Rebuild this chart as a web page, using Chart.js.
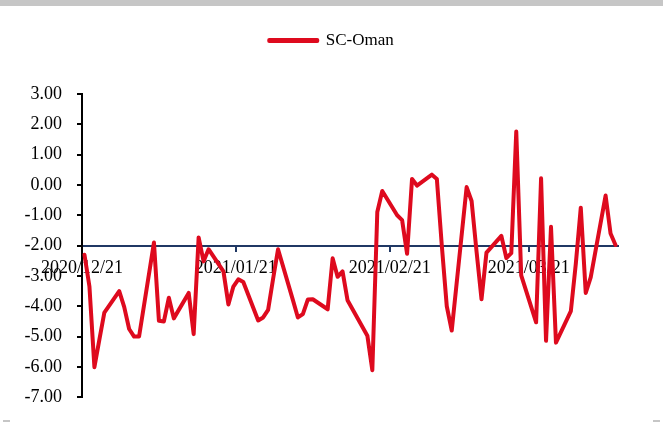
<!DOCTYPE html>
<html>
<head>
<meta charset="utf-8">
<script src="https://cdn.jsdelivr.net/npm/chart.js@4/dist/chart.umd.min.js"></script>
<style>
  html, body { margin: 0; padding: 0; background: #fff; }
  #wrap { position: relative; width: 663px; height: 423px; }
  #topbar { position: absolute; left: 0; top: 0; width: 663px; height: 6px; background: #c6c6c6; }
  .corner { position: absolute; width: 7px; height: 2px; background: #c6c6c6; top: 420px; }
</style>
</head>
<body>
<div id="wrap">
  <canvas id="chart-canvas" width="663" height="423"></canvas>
  <div id="topbar"></div>
  <div class="corner" style="left:3px"></div>
  <div class="corner" style="left:653px"></div>
</div>
<script>
const ctx = document.getElementById('chart-canvas');

// trading days
const dates = [
  '2020/12/21', '2020/12/22', '2020/12/23', '2020/12/24', '2020/12/25',
  '2020/12/28', '2020/12/29', '2020/12/30', '2020/12/31', '2021/01/01',
  '2021/01/04', '2021/01/05', '2021/01/06', '2021/01/07', '2021/01/08',
  '2021/01/11', '2021/01/12', '2021/01/13', '2021/01/14', '2021/01/15',
  '2021/01/18', '2021/01/19', '2021/01/20', '2021/01/21', '2021/01/22',
  '2021/01/25', '2021/01/26', '2021/01/27', '2021/01/28', '2021/01/29',
  '2021/02/01', '2021/02/02', '2021/02/03', '2021/02/04', '2021/02/05',
  '2021/02/08', '2021/02/09', '2021/02/10', '2021/02/11', '2021/02/12',
  '2021/02/16', '2021/02/17', '2021/02/18', '2021/02/19',
  '2021/02/22', '2021/02/23', '2021/02/24', '2021/02/25', '2021/02/26',
  '2021/03/01', '2021/03/02', '2021/03/03', '2021/03/04', '2021/03/05',
  '2021/03/08', '2021/03/09', '2021/03/10', '2021/03/11', '2021/03/12',
  '2021/03/15', '2021/03/16', '2021/03/17', '2021/03/18', '2021/03/19',
  '2021/03/22', '2021/03/23', '2021/03/24', '2021/03/25', '2021/03/26',
  '2021/03/29', '2021/03/30', '2021/03/31', '2021/04/01', '2021/04/02',
  '2021/04/05', '2021/04/06', '2021/04/07'
];

// SC-Oman spread
const scOman = [
  -2.30, -3.35, -6.01, -5.10, -4.21,
  -3.50, -4.02, -4.75, -5.00, -5.00,
  -1.90, -4.48, -4.50, -3.72, -4.40,
  -3.56, -4.92, -1.73, -2.52, -2.12,
  -2.85, -3.94, -3.35, -3.11, -3.20,
  -4.47, -4.37, -4.12, -3.10, -2.12,
  -3.80, -4.37, -4.26, -3.78, -3.77,
  -4.10, -2.42, -3.03, -2.85, -3.80,
  -4.97, -6.11, -0.89, -0.20,
  -1.00, -1.16, -2.27, 0.20, -0.02,
  0.34, 0.20, -2.00, -4.00, -4.80,
  -0.07, -0.53, -2.20, -3.77, -2.23,
  -1.68, -2.41, -2.25, 1.76, -2.98,
  -4.53, 0.22, -5.14, -1.38, -5.20,
  -4.16, -2.60, -0.75, -3.56, -3.05,
  -0.35, -1.60, -1.98
];

const tickLabels = ['2020/12/21', '2021/01/21', '2021/02/21', '2021/03/21'];
const axisStart = '2020/12/21';
const axisEnd = '2021/04/08';

const yMin = -7;
const yMax = 3;
const axisCross = -2;

// day number since the first date
function dayOf(s) {
  const p = s.split('/').map(Number);
  const base = axisStart.split('/').map(Number);
  return (Date.UTC(p[0], p[1] - 1, p[2]) - Date.UTC(base[0], base[1] - 1, base[2])) / 86400000;
}

// excel date axis: points sit between tick marks
const tickDays = tickLabels.map(d => dayOf(d) - 0.5);

const font = { family: '"Liberation Serif", "Times New Roman", serif', size: 18 };

const legendGap = {
  id: 'legendGap',
  beforeInit(chart) {
    const fit = chart.legend.fit;
    chart.legend.fit = function () {
      fit.bind(chart.legend)();
      this.height += 35;
    };
  }
};

new Chart(ctx, {
  type: 'line',
  data: {
    datasets: [
      {
        label: 'SC-Oman',
        data: dates.map((d, i) => ({ x: dayOf(d), y: scOman[i] })),
        borderColor: '#de0a1e',
        backgroundColor: '#de0a1e',
        borderWidth: 4,
        borderJoinStyle: 'round',
        borderCapStyle: 'round',
        pointRadius: 0,
        tension: 0
      }
    ]
  },
  options: {
    responsive: false,
    animation: false,
    layout: {
      padding: { top: 22, left: 0, right: 0, bottom: 20 }
    },
    plugins: {
      legend: {
        position: 'top',
        labels: {
          color: '#000',
          font: { family: font.family, size: 17 },
          boxWidth: 48,
          boxHeight: 1,
          padding: 10
        }
      },
      tooltip: { enabled: false }
    },
    scales: {
      x: {
        type: 'linear',
        position: { y: axisCross },
        min: dayOf(axisStart) - 0.5,
        max: dayOf(axisEnd) - 0.5,
        afterBuildTicks: scale => {
          scale.ticks = tickDays.map(v => ({ value: v }));
        },
        ticks: {
          autoSkip: false,
          maxRotation: 0,
          padding: 7,
          color: '#000',
          font: font,
          callback: v => tickLabels[tickDays.indexOf(v)]
        },
        grid: {
          drawOnChartArea: false,
          drawTicks: true,
          tickLength: 5,
          color: '#203864',
          lineWidth: 2
        },
        border: { color: '#203864', width: 2 }
      },
      y: {
        min: yMin,
        max: yMax,
        afterFit: scale => { scale.width = 82; },
        ticks: {
          stepSize: 1,
          padding: 15,
          color: '#000',
          font: font,
          callback: v => v.toFixed(2)
        },
        grid: {
          drawOnChartArea: false,
          drawTicks: true,
          tickLength: 5,
          color: '#000',
          lineWidth: 2
        },
        border: { color: '#000', width: 2 }
      },
      // empty right margin, keeps the legend centred on the whole canvas
      yRight: {
        position: 'right',
        afterFit: scale => { scale.width = 45; },
        ticks: { display: false },
        grid: { display: false },
        border: { display: false }
      }
    }
  },
  plugins: [legendGap]
});
</script>
</body>
</html>
